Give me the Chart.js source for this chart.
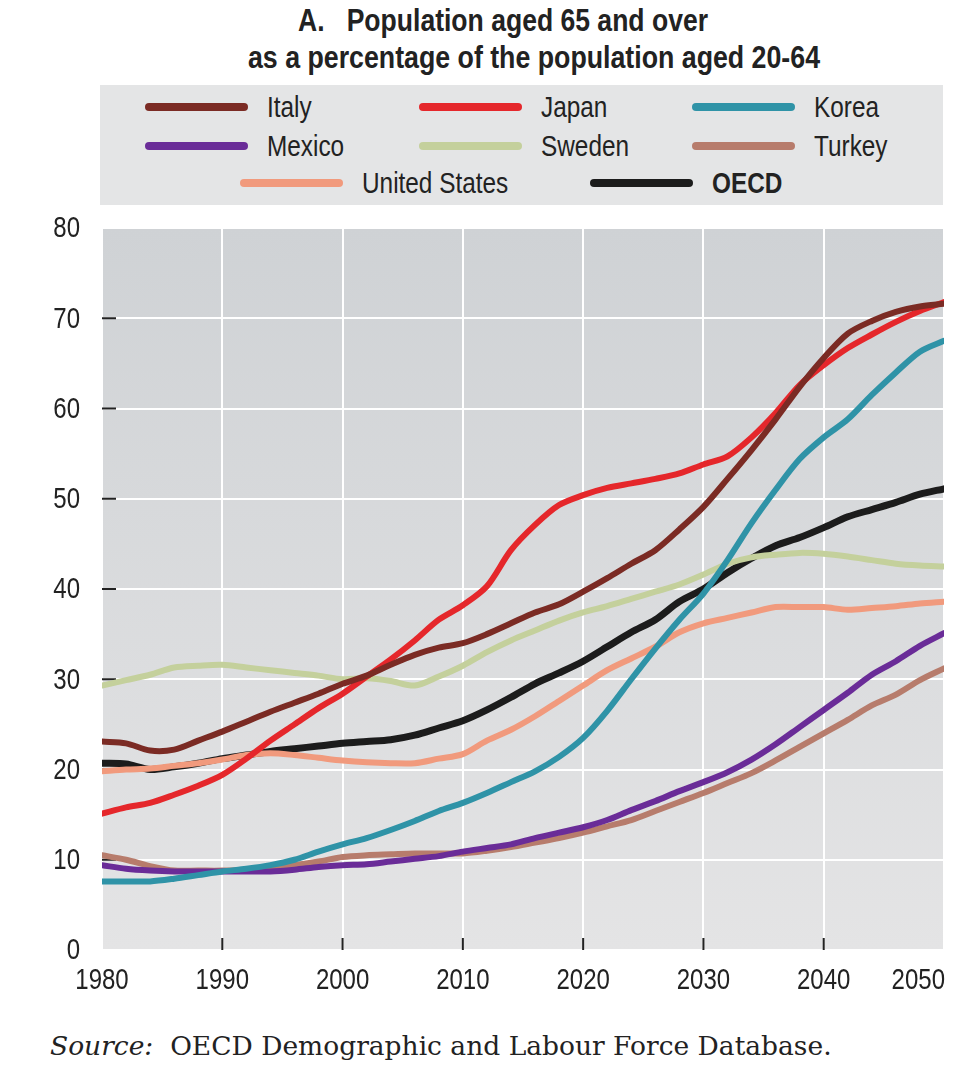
<!DOCTYPE html>
<html>
<head>
<meta charset="utf-8">
<script src="https://cdn.jsdelivr.net/npm/chart.js@4.4.0/dist/chart.umd.min.js"></script>
<style>
  body { margin: 0; background: #fff; width: 960px; height: 1069px; position: relative; overflow: hidden;
         font-family: "Liberation Sans", Arial, sans-serif; color: #222; }
  .title { position: absolute; font-weight: bold; font-size: 32px; white-space: pre; line-height: 1;
           transform-origin: 0 0; }
  #legend { position: absolute; left: 100px; top: 85px; width: 843px; height: 120px; background: #e4e5e6; }
  .item { position: absolute; height: 30px; display: flex; align-items: center; white-space: nowrap; }
  .sw { width: 103px; height: 8px; border-radius: 4px; margin-right: 19px; flex: none; }
  .lab { font-size: 29px; line-height: 1; display: inline-block; transform: scaleX(0.84); transform-origin: 0 50%; }
  #wrap { position: absolute; left: 0; top: 215px; width: 960px; height: 800px; }
  #source { position: absolute; left: 50px; top: 1033px; font-family: "DejaVu Serif", serif; font-size: 26.5px;
            line-height: 1; white-space: pre; }
</style>
</head>
<body>
<div class="title" id="t1" style="left:298px;top:4px">A.   Population aged 65 and over</div>
<div class="title" id="t2" style="left:248px;top:41px">as a percentage of the population aged 20-64</div>
<div id="legend"></div>
<div id="wrap"><canvas id="chart"></canvas></div>
<div id="source"><i>Source:</i>  OECD Demographic and Labour Force Database.</div>

<script>
// years sampled every two years
const years = [1980, 1982, 1984, 1986, 1988, 1990, 1992, 1994, 1996, 1998,
               2000, 2002, 2004, 2006, 2008, 2010, 2012, 2014, 2016, 2018,
               2020, 2022, 2024, 2026, 2028, 2030, 2032, 2034, 2036, 2038,
               2040, 2042, 2044, 2046, 2048, 2050];

const italy = [23.1, 22.9, 22.1, 22.2, 23.2, 24.2, 25.3, 26.4, 27.4, 28.4,
               29.5, 30.4, 31.6, 32.7, 33.5, 34.0, 35.0, 36.2, 37.4, 38.3,
               39.7, 41.2, 42.8, 44.3, 46.6, 49.1, 52.2, 55.4, 58.8, 62.4,
               65.6, 68.3, 69.7, 70.7, 71.3, 71.6];
const japan = [15.1, 15.8, 16.3, 17.2, 18.2, 19.4, 21.2, 23.2, 25.0, 26.8,
               28.4, 30.3, 32.2, 34.3, 36.6, 38.2, 40.3, 44.3, 47.1, 49.3,
               50.4, 51.2, 51.7, 52.2, 52.8, 53.8, 54.7, 56.8, 59.5, 62.6,
               64.8, 66.7, 68.2, 69.6, 70.8, 71.8];
const korea = [7.6, 7.6, 7.6, 7.9, 8.3, 8.7, 9.0, 9.4, 10.0, 10.9,
               11.7, 12.4, 13.3, 14.3, 15.4, 16.3, 17.4, 18.6, 19.8, 21.4,
               23.5, 26.5, 30.0, 33.4, 36.6, 39.5, 43.2, 47.3, 51.0, 54.4,
               56.8, 58.8, 61.5, 64.0, 66.3, 67.5];
const mexico = [9.4, 9.0, 8.8, 8.7, 8.7, 8.7, 8.7, 8.7, 8.9, 9.2,
                9.4, 9.5, 9.8, 10.1, 10.4, 10.9, 11.3, 11.7, 12.4, 13.0,
                13.6, 14.4, 15.5, 16.5, 17.6, 18.6, 19.7, 21.1, 22.8, 24.7,
                26.6, 28.5, 30.5, 32.0, 33.7, 35.1];
const sweden = [29.3, 29.9, 30.5, 31.3, 31.5, 31.6, 31.3, 31.0, 30.7, 30.4,
                30.0, 30.1, 29.8, 29.3, 30.3, 31.5, 33.0, 34.3, 35.4, 36.5,
                37.4, 38.1, 38.9, 39.7, 40.5, 41.6, 42.8, 43.5, 43.8, 44.0,
                43.9, 43.6, 43.2, 42.8, 42.6, 42.5];
const turkey = [10.5, 10.0, 9.3, 8.8, 8.8, 8.8, 8.9, 9.2, 9.4, 9.8,
                10.3, 10.5, 10.6, 10.7, 10.7, 10.7, 11.0, 11.4, 11.9, 12.4,
                13.0, 13.7, 14.4, 15.4, 16.4, 17.4, 18.5, 19.6, 21.0, 22.5,
                24.0, 25.5, 27.1, 28.3, 29.9, 31.2];
const unitedStates = [19.8, 20.0, 20.1, 20.4, 20.7, 21.1, 21.6, 21.8, 21.6, 21.3,
                      21.0, 20.8, 20.7, 20.7, 21.2, 21.7, 23.2, 24.4, 25.9, 27.6,
                      29.3, 31.0, 32.3, 33.6, 35.2, 36.2, 36.8, 37.4, 38.0, 38.0,
                      38.0, 37.7, 37.9, 38.1, 38.4, 38.6];
const oecd = [20.7, 20.6, 20.0, 20.3, 20.7, 21.2, 21.6, 22.0, 22.3, 22.6,
              22.9, 23.1, 23.3, 23.8, 24.6, 25.4, 26.6, 28.0, 29.5, 30.7,
              32.0, 33.6, 35.2, 36.6, 38.6, 40.0, 41.8, 43.4, 44.8, 45.7,
              46.8, 48.0, 48.8, 49.6, 50.5, 51.1];

const seriesNames = ['Italy', 'Japan', 'Korea', 'Mexico', 'Sweden', 'Turkey', 'United States', 'OECD'];
const seriesValues = [italy, japan, korea, mexico, sweden, turkey, unitedStates, oecd];
const seriesColors = ['#7b2b24', '#e5272b', '#2f93a7', '#6a2c98', '#c4d09c', '#b77c6c', '#f19a7d', '#1c1c1c'];

const xTicks = [1980, 1990, 2000, 2010, 2020, 2030, 2040, 2050];
const yTicks = [0, 10, 20, 30, 40, 50, 60, 70, 80];

// squeeze the title lines to the condensed width of the original
function fitWidth(id, w) {
  const el = document.getElementById(id);
  el.style.transform = 'scaleX(' + (w / el.getBoundingClientRect().width) + ')';
}
fitWidth('t1', 410);
fitWidth('t2', 572);

// legend layout (left edge of swatch, row centre)
const legendSpots = [[145, 107], [419, 107], [692, 107],
                     [145, 146], [419, 146], [692, 146],
                     [240, 183], [590, 183]];
const legendEl = document.getElementById('legend');
seriesNames.forEach((name, i) => {
  const it = document.createElement('div');
  it.className = 'item';
  it.style.left = (legendSpots[i][0] - 100) + 'px';
  it.style.top = (legendSpots[i][1] - 85 - 15) + 'px';
  const sw = document.createElement('div');
  sw.className = 'sw';
  sw.style.background = seriesColors[i];
  it.appendChild(sw);
  const t = document.createElement('span');
  t.className = 'lab';
  t.textContent = name;
  if (name === 'OECD') t.style.fontWeight = 'bold';
  it.appendChild(t);
  legendEl.appendChild(it);
});

const tickFont = '30px "Liberation Sans", Arial, sans-serif';
const squeeze = 0.8;

function condensedText(ctx, txt, x, y, align) {
  ctx.save();
  ctx.translate(x, y);
  ctx.scale(squeeze, 1);
  ctx.textAlign = align;
  ctx.fillText(txt, 0, 0);
  ctx.restore();
}

// gray gradient behind the plot, short dark tick marks, condensed tick labels
const plotDecor = {
  id: 'plotDecor',
  beforeDraw(chart) {
    const { ctx, chartArea: a } = chart;
    const g = ctx.createLinearGradient(0, a.top, 0, a.bottom);
    g.addColorStop(0, '#cfd2d5');
    g.addColorStop(1, '#e4e4e5');
    ctx.save();
    ctx.fillStyle = g;
    ctx.fillRect(a.left, a.top, a.right - a.left, a.bottom - a.top);
    ctx.restore();
  },
  beforeDatasetsDraw(chart) {
    const { ctx, chartArea: a, scales } = chart;
    ctx.save();
    ctx.strokeStyle = '#222';
    ctx.lineWidth = 2;
    yTicks.slice(1, -1).forEach(v => {
      const y = scales.y.getPixelForValue(v);
      ctx.beginPath(); ctx.moveTo(a.left, y); ctx.lineTo(a.left + 14, y); ctx.stroke();
    });
    xTicks.slice(1, -1).forEach(v => {
      const x = scales.x.getPixelForValue(v);
      ctx.beginPath(); ctx.moveTo(x, a.bottom); ctx.lineTo(x, a.bottom - 12); ctx.stroke();
    });
    ctx.restore();
  },
  afterDraw(chart) {
    const { ctx, chartArea: a, scales } = chart;
    ctx.save();
    ctx.font = tickFont;
    ctx.fillStyle = '#222';
    ctx.textBaseline = 'middle';
    yTicks.forEach(v => condensedText(ctx, String(v), a.left - 22, scales.y.getPixelForValue(v) + 1, 'right'));
    ctx.textBaseline = 'alphabetic';
    xTicks.forEach((v, i) => {
      if (i === xTicks.length - 1) condensedText(ctx, String(v), a.right + 1, a.bottom + 39, 'right');
      else condensedText(ctx, String(v), scales.x.getPixelForValue(v), a.bottom + 39, 'center');
    });
    ctx.restore();
  }
};

new Chart(document.getElementById('chart'), {
  type: 'line',
  data: {
    datasets: seriesNames.map((name, i) => ({
      label: name,
      data: years.map((yr, k) => ({ x: yr, y: seriesValues[i][k] })),
      borderColor: seriesColors[i],
      backgroundColor: seriesColors[i],
      borderWidth: name === 'OECD' ? 7 : 6,
      pointRadius: 0,
      tension: 0.3,
      borderCapStyle: 'round',
      borderJoinStyle: 'round',
      fill: false
    }))
  },
  options: {
    responsive: true,
    maintainAspectRatio: false,
    animation: false,
    layout: { padding: { top: 13, right: 16, left: 0, bottom: 0 }, autoPadding: false },
    plugins: { legend: { display: false }, tooltip: { enabled: false } },
    scales: {
      x: {
        type: 'linear',
        min: 1980,
        max: 2050,
        afterBuildTicks: s => { s.ticks = xTicks.map(v => ({ value: v })); },
        afterFit: s => { s.height = 65; },
        grid: { color: '#ffffff', lineWidth: 2, drawTicks: false },
        border: { display: false },
        ticks: { display: false }
      },
      y: {
        min: 0,
        max: 80,
        afterBuildTicks: s => { s.ticks = yTicks.map(v => ({ value: v })); },
        afterFit: s => { s.width = 102; },
        grid: { color: '#ffffff', lineWidth: 2, drawTicks: false },
        border: { display: false },
        ticks: { display: false }
      }
    }
  },
  plugins: [plotDecor]
});
</script>
</body>
</html>
